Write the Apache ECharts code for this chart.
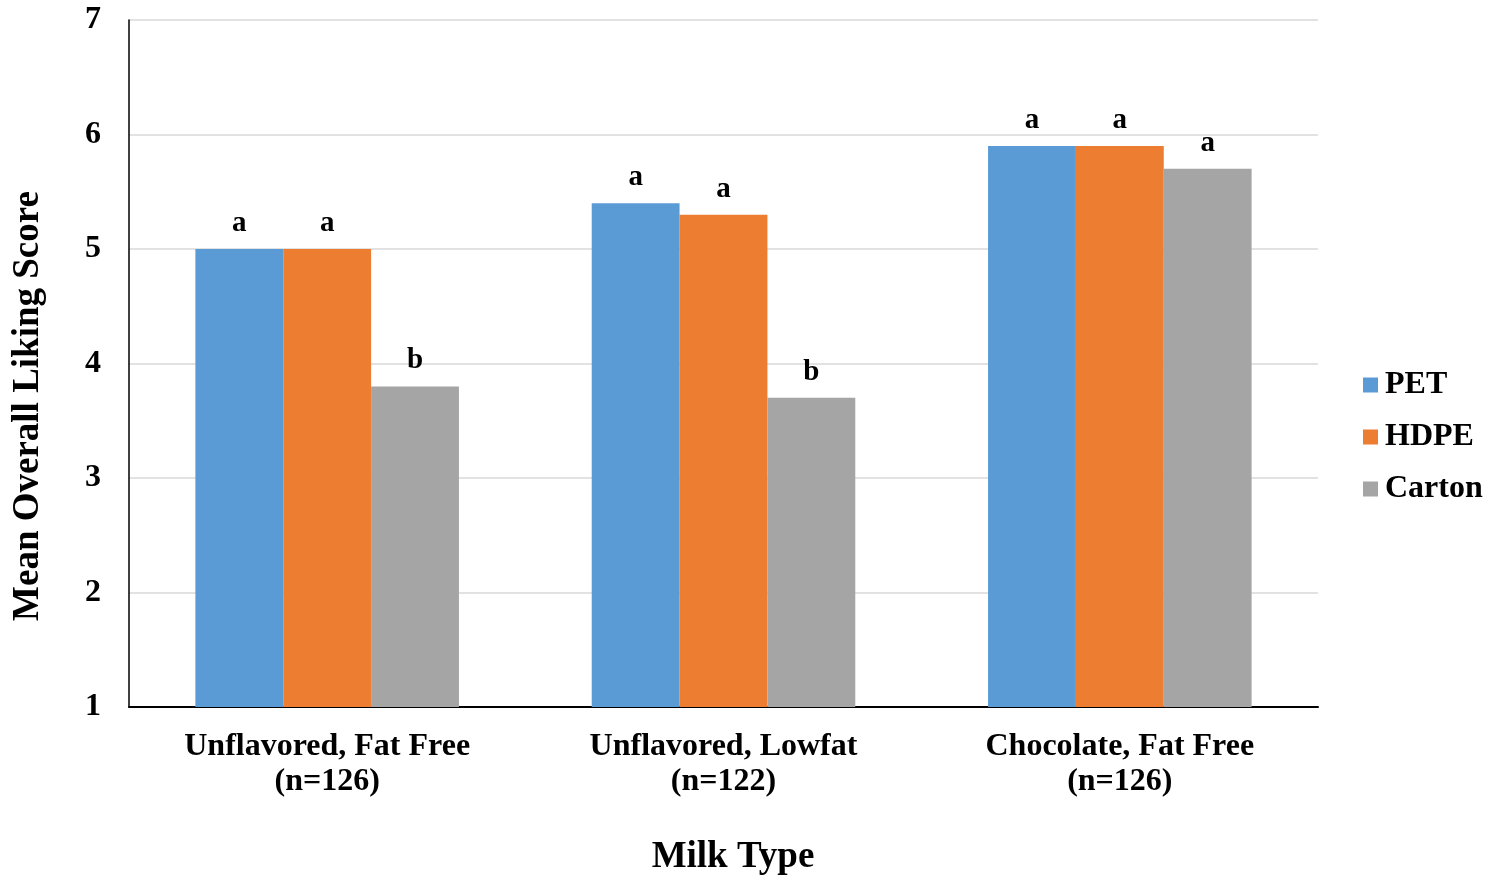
<!DOCTYPE html>
<html>
<head>
<meta charset="utf-8">
<script src="https://cdn.jsdelivr.net/npm/echarts@6/dist/echarts.min.js"></script>
<style>
  html, body { margin: 0; padding: 0; background: #fff; }
  #chart { width: 1487px; height: 877px; }
</style>
</head>
<body>
<div id="chart"></div>
<script>
// Milk types with panel sizes
const categories = ['Unflavored, Fat Free\n(n=126)', 'Unflavored, Lowfat\n(n=122)', 'Chocolate, Fat Free\n(n=126)'];

// Mean overall liking per package type
const petValues = [5.0, 5.4, 5.9];
const hdpeValues = [5.0, 5.3, 5.9];
const cartonValues = [3.8, 3.7, 5.7];

// Significance letters shown above each bar
const petLetters = ['a', 'a', 'a'];
const hdpeLetters = ['a', 'a', 'a'];
const cartonLetters = ['b', 'b', 'a'];

const FONT = '"Liberation Serif", "Times New Roman", serif';

function makeSeries(name, values, letters, color) {
  return {
    name: name,
    type: 'bar',
    data: values,
    barGap: '0%',
    barCategoryGap: '33.5%',
    itemStyle: { color: color },
    label: {
      show: true,
      position: 'top',
      distance: 11,
      formatter: p => letters[p.dataIndex],
      fontFamily: FONT,
      fontWeight: 'bold',
      fontSize: 29,
      color: '#000'
    }
  };
}

const chart = echarts.init(document.getElementById('chart'));
chart.setOption({
  animation: false,
  backgroundColor: '#fff',
  grid: { left: 129, right: 169, top: 20, bottom: 170, containLabel: false },
  legend: {
    orient: 'vertical',
    left: 1363,
    top: 369,
    padding: 0,
    itemWidth: 15,
    itemHeight: 15,
    itemGap: 20,
    icon: 'rect',
    textStyle: { fontFamily: FONT, fontWeight: 'bold', fontSize: 32, color: '#000', lineHeight: 31, padding: [0, 0, 0, 2] },
    data: ['PET', 'HDPE', 'Carton']
  },
  xAxis: {
    type: 'category',
    data: categories,
    axisLine: { show: true, lineStyle: { color: '#000', width: 2 } },
    axisTick: { show: false },
    axisLabel: {
      fontFamily: FONT, fontWeight: 'bold', fontSize: 32, color: '#000',
      lineHeight: 35, margin: 22, interval: 0
    }
  },
  yAxis: {
    type: 'value',
    min: 1,
    max: 7,
    interval: 1,
    axisLine: { show: true, lineStyle: { color: '#000', width: 1.5 } },
    axisTick: { show: false },
    axisLabel: { fontFamily: FONT, fontWeight: 'bold', fontSize: 32, color: '#000', margin: 28 },
    splitLine: { lineStyle: { color: '#d9d9d9', width: 1.5 } }
  },
  graphic: [
    {
      type: 'text',
      x: 28, y: 406,
      rotation: Math.PI / 2,
      style: {
        text: 'Mean Overall Liking Score',
        fontFamily: FONT, fontWeight: 'bold', fontSize: 37, fill: '#000',
        textAlign: 'center', textVerticalAlign: 'middle'
      }
    },
    {
      type: 'text',
      x: 733, y: 857,
      style: {
        text: 'Milk Type',
        fontFamily: FONT, fontWeight: 'bold', fontSize: 37, fill: '#000',
        textAlign: 'center', textVerticalAlign: 'middle'
      }
    }
  ],
  series: [
    makeSeries('PET', petValues, petLetters, '#5b9bd5'),
    makeSeries('HDPE', hdpeValues, hdpeLetters, '#ed7d31'),
    makeSeries('Carton', cartonValues, cartonLetters, '#a5a5a5')
  ]
});
</script>
</body>
</html>
